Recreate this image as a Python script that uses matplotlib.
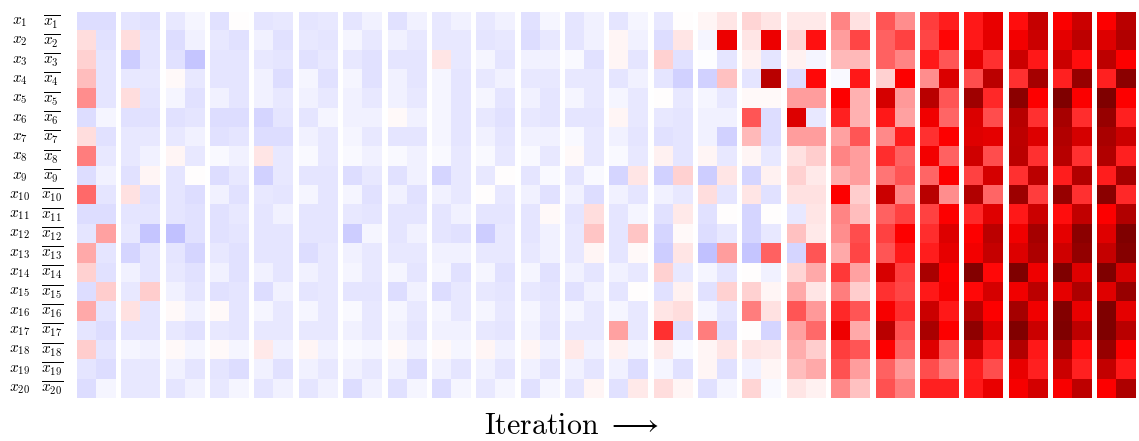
import numpy as np
import matplotlib
matplotlib.use("Agg")
import matplotlib.pyplot as plt

plt.rcParams['mathtext.fontset'] = 'cm'

# Each iteration: 20 rows of (x_i, not x_i) activation values
it01 = [(-0.07,-0.07),(0.065,-0.06),(0.09,-0.05),(0.125,-0.05),(0.22,-0.05),(-0.07,-0.02),(0.07,-0.06),(0.25,-0.04),(-0.07,-0.03),(0.29,-0.05),
        (-0.07,-0.07),(-0.05,0.18),(0.165,-0.05),(0.09,-0.06),(-0.07,0.1),(0.165,-0.05),(-0.05,-0.07),(0.1,-0.05),(-0.05,-0.07),(-0.07,-0.02)]
it02 = [(-0.05,-0.06),(0.07,-0.05),(-0.1,-0.05),(-0.04,-0.04),(0.07,-0.05),(-0.06,-0.06),(-0.04,-0.04),(-0.04,-0.03),(-0.06,0.02),(0.06,-0.06),
        (-0.05,-0.05),(-0.04,-0.11),(-0.08,-0.05),(-0.03,-0.05),(-0.04,0.1),(0.06,-0.05),(-0.05,-0.05),(-0.02,-0.03),(-0.04,-0.04),(-0.04,-0.04)]
it03 = [(-0.04,-0.02),(-0.07,-0.03),(-0.06,-0.11),(0.01,-0.04),(-0.02,-0.06),(-0.06,-0.05),(-0.04,-0.03),(0.02,-0.04),(-0.05,0.0),(-0.05,-0.07),
        (-0.05,-0.06),(-0.12,-0.06),(-0.05,-0.08),(-0.04,-0.06),(-0.03,-0.05),(0.01,-0.03),(-0.04,-0.06),(0.01,-0.02),(-0.03,-0.05),(-0.05,-0.03)]
it04 = [(-0.06,0.005),(-0.04,-0.06),(-0.05,-0.05),(-0.05,-0.05),(-0.03,-0.05),(-0.07,-0.07),(-0.06,-0.05),(-0.01,-0.03),(-0.07,-0.04),(-0.03,-0.06),
        (-0.06,-0.04),(-0.06,-0.05),(-0.04,-0.06),(-0.03,-0.06),(-0.06,-0.05),(0.01,-0.05),(-0.04,-0.05),(0.01,-0.02),(-0.05,-0.07),(-0.04,-0.02)]
it05 = [(-0.05,-0.04),(-0.03,-0.06),(-0.04,-0.05),(-0.03,-0.07),(-0.03,-0.04),(-0.08,-0.05),(-0.07,-0.07),(0.05,-0.04),(-0.09,-0.04),(-0.04,-0.05),
        (-0.05,-0.03),(-0.05,-0.05),(-0.05,-0.05),(-0.03,-0.05),(-0.07,-0.03),(-0.02,-0.04),(-0.04,-0.04),(0.04,-0.03),(-0.03,-0.06),(-0.05,-0.03)]
it06 = [(-0.05,-0.04),(-0.04,-0.05),(-0.06,-0.04),(-0.02,-0.06),(-0.03,-0.04),(-0.05,-0.02),(-0.03,-0.04),(-0.01,-0.04),(-0.05,-0.05),(-0.02,-0.05),
        (-0.05,-0.05),(-0.05,-0.05),(-0.07,-0.04),(-0.03,-0.04),(-0.05,-0.04),(-0.02,-0.04),(-0.04,-0.04),(0.02,-0.03),(-0.03,-0.04),(-0.05,-0.03)]
it07 = [(-0.05,-0.03),(-0.02,-0.04),(-0.04,-0.06),(-0.02,-0.06),(-0.03,-0.04),(-0.03,-0.03),(-0.02,-0.04),(-0.01,-0.03),(-0.07,-0.04),(-0.02,-0.06),
        (-0.04,-0.05),(-0.1,-0.02),(-0.03,-0.04),(-0.02,-0.04),(-0.05,-0.05),(-0.01,-0.04),(-0.03,-0.04),(-0.01,-0.02),(-0.03,-0.04),(-0.07,-0.03)]
it08 = [(-0.06,-0.03),(-0.03,-0.04),(-0.05,-0.05),(-0.03,-0.05),(-0.03,-0.04),(0.015,-0.03),(-0.05,-0.05),(-0.01,-0.03),(-0.06,-0.03),(-0.03,-0.06),
        (-0.05,-0.05),(-0.05,-0.03),(-0.04,-0.04),(-0.02,-0.05),(-0.07,-0.03),(-0.02,-0.04),(-0.03,-0.05),(0.01,-0.03),(-0.03,-0.07),(-0.06,-0.02)]
it09 = [(-0.04,-0.03),(-0.04,-0.04),(0.05,-0.04),(-0.02,-0.05),(-0.02,-0.05),(-0.02,-0.05),(-0.02,-0.05),(-0.01,-0.04),(-0.08,-0.04),(-0.03,-0.04),
        (-0.05,-0.03),(-0.05,-0.06),(-0.03,-0.03),(-0.02,-0.06),(-0.07,-0.04),(-0.02,-0.04),(-0.03,-0.03),(0.01,-0.02),(-0.03,-0.05),(-0.07,-0.02)]
it10 = [(-0.04,-0.03),(-0.05,-0.04),(-0.02,-0.05),(-0.04,-0.03),(-0.02,-0.05),(-0.04,-0.06),(-0.03,-0.05),(-0.01,-0.04),(-0.04,0.005),(0.005,-0.04),
        (-0.05,-0.05),(-0.1,-0.04),(-0.04,-0.04),(-0.02,-0.06),(-0.04,-0.05),(-0.02,-0.04),(-0.04,-0.05),(0.02,-0.03),(-0.03,-0.05),(-0.04,-0.02)]
it11 = [(-0.06,-0.02),(-0.07,-0.04),(-0.03,-0.03),(-0.04,-0.04),(-0.03,-0.05),(-0.04,-0.05),(-0.03,-0.03),(-0.01,-0.04),(-0.05,-0.01),(-0.03,-0.06),
        (-0.05,0.015),(-0.05,-0.03),(-0.04,-0.03),(-0.02,-0.06),(-0.04,-0.05),(-0.02,-0.04),(-0.03,-0.05),(0.02,-0.03),(-0.03,-0.05),(-0.06,-0.02)]
it12 = [(-0.05,-0.03),(-0.05,-0.03),(-0.01,-0.06),(-0.04,-0.04),(-0.02,-0.04),(-0.05,-0.05),(-0.01,-0.04),(0.015,-0.04),(-0.05,-0.01),(-0.03,-0.07),
        (-0.05,0.07),(-0.04,0.11),(-0.04,0.02),(-0.03,-0.05),(-0.06,-0.03),(-0.02,-0.04),(-0.04,-0.04),(0.04,-0.03),(-0.03,-0.05),(-0.05,0.02)]
it13 = [(-0.05,-0.02),(0.02,-0.03),(0.02,-0.05),(-0.05,-0.03),(-0.02,-0.04),(0.02,-0.04),(-0.03,-0.05),(-0.01,-0.04),(-0.08,0.05),(-0.03,-0.05),
        (-0.05,-0.02),(-0.05,0.11),(-0.05,0.015),(-0.03,-0.04),(-0.05,0.0),(-0.02,-0.04),(0.18,-0.04),(0.025,-0.02),(-0.03,-0.07),(-0.06,0.04)]
it14 = [(-0.04,0.0),(-0.07,0.05),(0.09,-0.06),(-0.05,-0.09),(0.005,-0.04),(-0.04,-0.05),(-0.06,-0.05),(0.03,-0.05),(-0.09,0.09),(-0.03,-0.04),
        (-0.06,0.04),(-0.08,0.01),(-0.1,0.05),(0.09,-0.04),(-0.06,0.03),(0.05,0.065),(0.4,-0.07),(0.04,-0.01),(-0.02,-0.06),(0.07,0.02)]
it15 = [(0.02,0.05),(-0.02,0.57),(-0.005,-0.05),(-0.09,0.12),(-0.02,-0.04),(-0.03,-0.03),(-0.03,-0.09),(0.02,-0.04),(-0.1,0.05),(0.07,-0.05),
        (-0.06,0.0),(-0.07,-0.04),(-0.12,0.19),(-0.02,-0.05),(-0.06,0.09),(-0.02,-0.05),(0.25,-0.07),(0.02,0.05),(0.02,-0.06),(-0.06,-0.02)]
it16 = [(0.08,0.05),(0.05,0.57),(0.03,-0.05),(-0.05,0.77),(0.01,0.01),(0.33,-0.07),(0.14,-0.07),(0.02,-0.04),(-0.08,0.03),(0.05,-0.06),
        (-0.08,0.0),(-0.08,-0.04),(-0.11,0.31),(0.0,-0.03),(0.09,0.02),(0.25,0.06),(0.0,-0.08),(0.05,0.04),(-0.03,0.02),(0.08,-0.01)]
it17 = [(0.04,0.04),(0.08,0.465),(0.03,-0.02),(-0.07,0.48),(0.19,0.19),(0.63,-0.04),(0.19,0.19),(0.06,0.1),(0.09,0.04),(0.06,0.06),
        (-0.04,0.05),(0.12,0.04),(-0.08,0.33),(0.08,0.17),(0.17,0.05),(0.33,0.2),(0.18,0.29),(0.16,0.1),(0.13,0.17),(0.05,0.03)]
it18 = [(0.24,0.06),(0.19,0.36),(0.14,0.14),(-0.01,0.45),(0.5,0.15),(0.43,0.15),(0.18,0.33),(0.24,0.19),(0.16,0.19),(0.5,0.1),
        (0.24,0.13),(0.22,0.35),(0.17,0.36),(0.39,0.18),(0.25,0.1),(0.42,0.33),(0.56,0.17),(0.38,0.33),(0.34,0.19),(0.23,0.12)]
it19 = [(0.33,0.22),(0.31,0.37),(0.31,0.24),(0.09,0.5),(0.66,0.2),(0.45,0.18),(0.23,0.44),(0.41,0.31),(0.27,0.33),(0.7,0.24),
        (0.31,0.37),(0.37,0.5),(0.33,0.45),(0.65,0.38),(0.4,0.36),(0.53,0.41),(0.77,0.34),(0.5,0.31),(0.31,0.2),(0.34,0.25)]
it20 = [(0.38,0.44),(0.36,0.49),(0.45,0.33),(0.22,0.64),(0.77,0.33),(0.55,0.3),(0.4,0.5),(0.54,0.31),(0.3,0.5),(0.77,0.22),
        (0.37,0.5),(0.41,0.63),(0.44,0.59),(0.83,0.5),(0.45,0.53),(0.7,0.45),(0.83,0.5),(0.62,0.33),(0.35,0.25),(0.43,0.43)]
it21 = [(0.45,0.58),(0.45,0.6),(0.6,0.4),(0.35,0.76),(0.87,0.42),(0.64,0.35),(0.62,0.6),(0.68,0.35),(0.37,0.66),(0.8,0.3),
        (0.42,0.62),(0.5,0.76),(0.54,0.72),(0.98,0.48),(0.48,0.66),(0.77,0.5),(0.93,0.63),(0.7,0.43),(0.44,0.35),(0.45,0.58)]
it22 = [(0.47,0.72),(0.54,0.7),(0.7,0.45),(0.4,0.85),(0.95,0.5),(0.78,0.4),(0.75,0.63),(0.76,0.4),(0.4,0.76),(0.88,0.38),
        (0.45,0.7),(0.55,0.85),(0.63,0.82),(1.0,0.56),(0.55,0.76),(0.85,0.55),(0.99,0.7),(0.8,0.45),(0.58,0.43),(0.53,0.67)]
it23 = [(0.51,0.7),(0.6,0.75),(0.7,0.47),(0.43,0.9),(1.0,0.51),(0.84,0.41),(0.8,0.66),(0.78,0.4),(0.44,0.8),(0.9,0.4),
        (0.47,0.74),(0.6,0.95),(0.68,0.92),(1.0,0.62),(0.6,0.82),(0.98,0.58),(1.0,0.75),(0.85,0.47),(0.7,0.43),(0.52,0.75)]
it24 = [(0.5,0.77),(0.63,0.8),(0.75,0.5),(0.43,0.95),(1.0,0.5),(0.9,0.43),(0.83,0.7),(0.8,0.43),(0.44,0.85),(0.95,0.42),
        (0.5,0.8),(0.62,1.0),(0.72,0.97),(1.0,0.65),(0.62,0.9),(1.0,0.6),(1.0,0.77),(0.9,0.5),(0.73,0.45),(0.5,0.82)]

iterations = [it01, it02, it03, it04, it05, it06, it07, it08, it09, it10, it11, it12,
              it13, it14, it15, it16, it17, it18, it19, it20, it21, it22, it23, it24]
var_labels = [r"$x_{%d}$" % i for i in range(1, 21)]
neg_labels = [r"$\overline{x_{%d}}$" % i for i in range(1, 21)]
xlabel_text = r"$\mathrm{Iteration}\ \longrightarrow$"

W, H = 1139, 441
fig = plt.figure(figsize=(W / 100, H / 100), dpi=100)
ax = fig.add_axes([77 / W, 1 - 398 / H, (1136 - 77) / W, (398 - 12) / H])

gap = 0.30
n_rows = len(var_labels)
for g, it in enumerate(iterations):
    arr = np.array(it)
    x0 = g * (2 + gap)
    ax.imshow(arr, cmap='seismic', vmin=-1, vmax=1, aspect='auto',
              interpolation='nearest', extent=[x0, x0 + 2, n_rows, 0])

total = len(iterations) * 2 + (len(iterations) - 1) * gap
ax.set_xlim(0, total)
ax.set_ylim(n_rows, 0)
ax.axis('off')

cell_px = 19.28
for i in range(n_rows):
    yc = i + 0.5
    ax.text(-57.5 / cell_px, yc, var_labels[i], ha='center', va='center', fontsize=11)
    ax.text(-25 / cell_px, yc, neg_labels[i], ha='center', va='center', fontsize=11)

fig.text(571 / W, 1 - 426 / H, xlabel_text, ha='center', va='center', fontsize=21.5)

fig.savefig("out.png", dpi=100)
